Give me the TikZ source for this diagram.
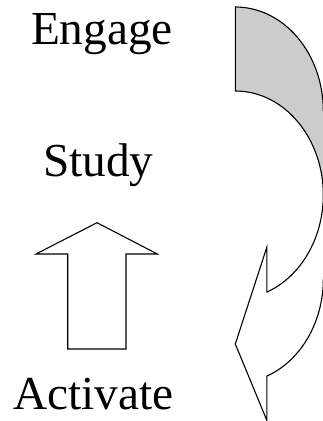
\documentclass[tikz,border=0pt]{standalone}
\usepackage{fontspec}
\setmainfont{Liberation Serif}
\begin{document}
\begin{tikzpicture}[x=1pt,y=1pt,
    label/.style={inner sep=0pt,anchor=base,font=\fontsize{47.3}{52}\selectfont},
    outline/.style={draw=black,line width=1.1pt,line join=miter},
    frontface/.style={outline,fill=white},
    band/.style={x radius=88,y radius=104}]
  \useasboundingbox (0,0) rectangle (322,421);

  % stage labels
  \node[label] (engage)   at (102,376)   {Engage};
  \node[label] (study)    at (98.3,244.3) {Study};
  \node[label] (activate) at (93.3,11.7)  {Activate};

  % block arrow pointing up from Activate to Study
  \draw[frontface] (67.7,72) -- (67.7,167) -- (36,167) -- (97,198.3)
        -- (157.3,167) -- (126,167) -- (126,72) -- cycle;

  % curved return arrow: shaded back band (filled, then outlined without its far edge)
  \fill[black!20] (235.3,414)
        arc[band,start angle=90,end angle=0]
        -- (323.3,226)
        arc[band,start angle=0,end angle=90]
        -- cycle;
  \draw[outline] (323.3,226)
        arc[band,start angle=0,end angle=90]
        -- (235.3,414)
        arc[band,start angle=90,end angle=0];

  % curved return arrow: front band with arrowhead
  \fill[white] (323.3,226)
        arc[band,start angle=0,end angle=-68.96]
        -- (266.9,174) -- (235.3,77) -- (266.9,0.5) -- (266.9,44.9)
        arc[band,start angle=-68.96,end angle=0]
        -- cycle;
  \draw[outline] (323.3,226)
        arc[band,start angle=0,end angle=-68.96]
        -- (266.9,174) -- (235.3,77) -- (266.9,0.5) -- (266.9,44.9)
        arc[band,start angle=-68.96,end angle=0];
\end{tikzpicture}
\end{document}
